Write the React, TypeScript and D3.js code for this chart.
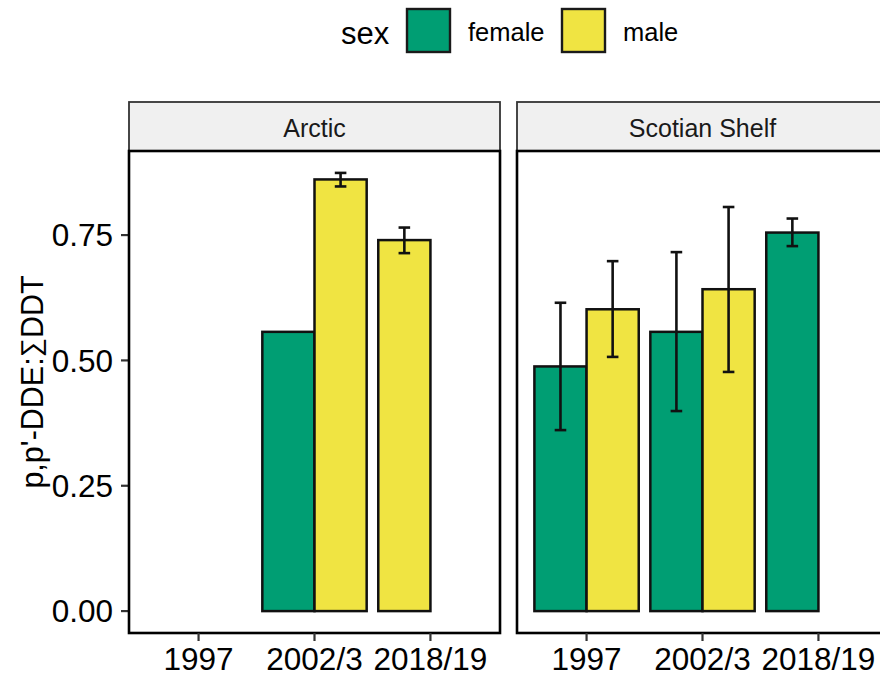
import React from "react";
import * as d3 from "d3";

// Ratio of p,p'-DDE to total DDT by region, sampling period and sex
const regions = ["Arctic", "Scotian Shelf"];
const years = ["1997", "2002/3", "2018/19"];
const sexes = ["female", "male"];
const sexColors = ["#009E73", "#F0E442"];
const yTicks = [0, 0.25, 0.5, 0.75];

const barRegion = ["Arctic", "Arctic", "Arctic", "Scotian Shelf", "Scotian Shelf", "Scotian Shelf", "Scotian Shelf", "Scotian Shelf"];
const barYear = ["2002/3", "2002/3", "2018/19", "1997", "1997", "2002/3", "2002/3", "2018/19"];
const barSex = ["female", "male", "male", "female", "male", "female", "male", "female"];
const barMean = [0.557, 0.861, 0.740, 0.488, 0.602, 0.557, 0.642, 0.755];
const barLow: (number | null)[] = [null, 0.847, 0.714, 0.361, 0.507, 0.399, 0.477, 0.728];
const barHigh: (number | null)[] = [null, 0.874, 0.765, 0.615, 0.698, 0.716, 0.806, 0.783];

const W = 880;
const H = 677;
const font = "'Liberation Sans', Arial, sans-serif";

const panelTop = 151;
const panelBottom = 633;
const stripTop = 102;
const panelLefts = [129, 517];
const panelWidth = 371;

export default function App() {
  const maxVal = d3.max(barMean.map((m, i) => Math.max(m, barHigh[i] ?? m))) as number;
  const pad = maxVal * 0.05;
  const y = d3.scaleLinear().domain([-pad, maxVal + pad]).range([panelBottom, panelTop]);

  const bars = barMean.map((m, i) => {
    const siblings = barSex.filter((_, j) => barRegion[j] === barRegion[i] && barYear[j] === barYear[i]);
    const slot = siblings.length > 1 ? sexes.indexOf(barSex[i]) : 0;
    return { region: barRegion[i], year: barYear[i], sex: barSex[i], mean: m, lo: barLow[i], hi: barHigh[i], slot };
  });

  return (
    <svg width={W} height={H} style={{ position: "absolute", left: 0, top: 0, background: "white" }} fontFamily={font}>
      {/* legend */}
      <g>
        <text x={341} y={33} fontSize={31} dominantBaseline="central" fill="#000">sex</text>
        {sexes.map((s, i) => {
          const kx = [407, 562][i];
          return (
            <g key={s}>
              <rect x={kx} y={9} width={43} height={43} fill={sexColors[i]} stroke="#1a1a1a" strokeWidth={2.4} />
              <text x={kx + 61} y={32} fontSize={25.5} dominantBaseline="central" fill="#000">{s}</text>
            </g>
          );
        })}
      </g>

      {/* y axis title */}
      <text
        transform={`translate(43, 382) rotate(-90)`}
        textAnchor="middle"
        fontSize={30.5}
        fill="#000"
      >
        <tspan>p,p'-DDE:</tspan>
        <tspan fontSize={27} dy={-3}>∑</tspan>
        <tspan dy={3}>DDT</tspan>
      </text>

      {/* y axis ticks */}
      {yTicks.map((t) => (
        <g key={t}>
          <line x1={121} x2={129} y1={y(t)} y2={y(t)} stroke="#333" strokeWidth={2.2} />
          <text x={113} y={y(t)} dy="0.36em" textAnchor="end" fontSize={31.5} fill="#000">
            {d3.format(".2f")(t)}
          </text>
        </g>
      ))}

      {regions.map((r, pi) => {
        const left = panelLefts[pi];
        const x = d3.scalePoint<string>().domain(years).range([left + panelWidth * 0.6 / 3.2, left + panelWidth * 2.6 / 3.2]);
        const unit = panelWidth / 3.2;
        const bw = unit * 0.45;
        return (
          <g key={r}>
            {/* strip */}
            <rect x={left} y={stripTop} width={panelWidth} height={panelTop - stripTop} fill="#f0f0f0" stroke="#333" strokeWidth={1.8} />
            <text x={left + panelWidth / 2} y={(stripTop + panelTop) / 2 + 1} textAnchor="middle" dominantBaseline="central" fontSize={25} fill="#1a1a1a">
              {r}
            </text>

            {/* bars */}
            {bars.filter((b) => b.region === r).map((b, i) => {
              const cx = x(b.year) as number;
              const bx = cx - unit * 0.45 + b.slot * bw;
              return (
                <rect key={i} x={bx} y={y(b.mean)} width={bw} height={y(0) - y(b.mean)}
                  fill={sexColors[sexes.indexOf(b.sex)]} stroke="#111" strokeWidth={2.5} />
              );
            })}
            {/* error bars */}
            {bars.filter((b) => b.region === r && b.lo !== null).map((b, i) => {
              const cx = (x(b.year) as number) - unit * 0.45 + b.slot * bw + bw / 2;
              const cw = unit * 0.05;
              return (
                <g key={i} stroke="#111" strokeWidth={2.6}>
                  <line x1={cx} x2={cx} y1={y(b.lo as number)} y2={y(b.hi as number)} />
                  <line x1={cx - cw} x2={cx + cw} y1={y(b.lo as number)} y2={y(b.lo as number)} />
                  <line x1={cx - cw} x2={cx + cw} y1={y(b.hi as number)} y2={y(b.hi as number)} />
                </g>
              );
            })}

            {/* panel border */}
            <rect x={left} y={panelTop} width={panelWidth} height={panelBottom - panelTop} fill="none" stroke="#000" strokeWidth={2.6} />

            {/* x axis */}
            {years.map((yr) => (
              <g key={yr}>
                <line x1={x(yr)} x2={x(yr)} y1={panelBottom} y2={panelBottom + 8} stroke="#333" strokeWidth={2.2} />
                <text x={x(yr)} y={670} textAnchor="middle" fontSize={31.5} fill="#000">{yr}</text>
              </g>
            ))}
          </g>
        );
      })}
    </svg>
  );
}
